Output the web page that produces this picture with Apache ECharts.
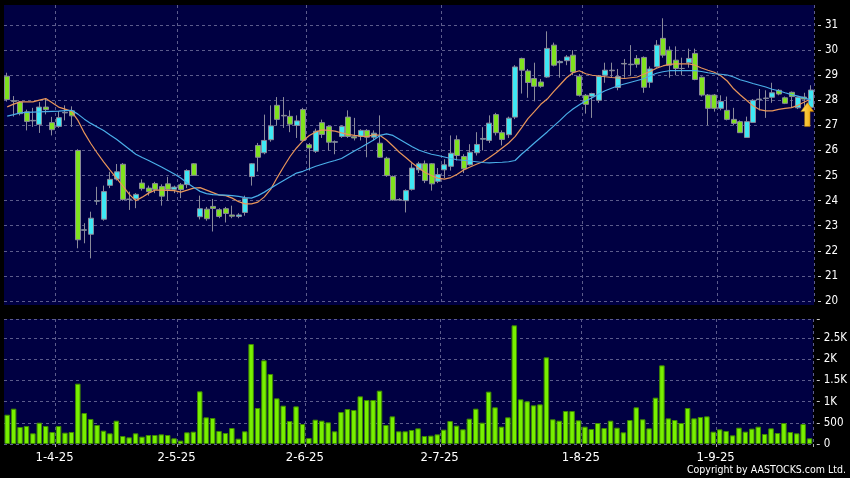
<!DOCTYPE html>
<html>
<head>
<meta charset="utf-8">
<script src="https://cdn.jsdelivr.net/npm/echarts@6/dist/echarts.min.js"></script>
<style>
html,body{margin:0;padding:0;background:#000;}
#chart{width:850px;height:478px;}
</style>
</head>
<body>
<div id="chart"></div>
<script>
const dates = [
'2025-03-20','2025-03-21','2025-03-24','2025-03-25','2025-03-26','2025-03-27','2025-03-28','2025-03-31',
'2025-04-01','2025-04-02','2025-04-03','2025-04-07','2025-04-08','2025-04-09','2025-04-10','2025-04-11','2025-04-14','2025-04-15','2025-04-16','2025-04-17','2025-04-22','2025-04-23','2025-04-24','2025-04-25','2025-04-28','2025-04-29','2025-04-30',
'2025-05-02','2025-05-06','2025-05-07','2025-05-08','2025-05-09','2025-05-12','2025-05-13','2025-05-14','2025-05-15','2025-05-16','2025-05-19','2025-05-20','2025-05-21','2025-05-22','2025-05-23','2025-05-26','2025-05-27','2025-05-28','2025-05-29','2025-05-30',
'2025-06-02','2025-06-03','2025-06-04','2025-06-05','2025-06-06','2025-06-09','2025-06-10','2025-06-11','2025-06-12','2025-06-13','2025-06-16','2025-06-17','2025-06-18','2025-06-19','2025-06-20','2025-06-23','2025-06-24','2025-06-25','2025-06-26','2025-06-27','2025-06-30',
'2025-07-02','2025-07-03','2025-07-04','2025-07-07','2025-07-08','2025-07-09','2025-07-10','2025-07-11','2025-07-14','2025-07-15','2025-07-16','2025-07-17','2025-07-18','2025-07-21','2025-07-22','2025-07-23','2025-07-24','2025-07-25','2025-07-28','2025-07-29','2025-07-30','2025-07-31',
'2025-08-01','2025-08-04','2025-08-05','2025-08-06','2025-08-07','2025-08-08','2025-08-11','2025-08-12','2025-08-13','2025-08-14','2025-08-15','2025-08-18','2025-08-19','2025-08-20','2025-08-21','2025-08-22','2025-08-25','2025-08-26','2025-08-27','2025-08-28','2025-08-29',
'2025-09-01','2025-09-02','2025-09-03','2025-09-04','2025-09-05','2025-09-08','2025-09-09','2025-09-10','2025-09-11','2025-09-12','2025-09-15','2025-09-16','2025-09-17','2025-09-18','2025-09-19'
];

const opens = [28.96,27.98,27.93,27.54,27.18,27.04,27.73,27.11,26.96,27.5, 27.58,26.0,22.82,22.66,23.98,23.26,24.61,24.86,25.45,24.05, 24.07,24.7,24.5,24.68,24.56,24.67,24.45,24.63,24.64,25.47, 23.36,23.66,23.77,23.64,23.68,23.43,23.37,23.53,24.96,26.2, 25.91,26.43,27.8,27.4,27.36,27.0,27.63,26.23,25.97,27.11, 26.96,26.33,26.56,27.33,26.55,26.56,26.8,26.53,26.29,25.69, 24.96,24.03,24.0,24.45,25.23,25.47,25.47,24.77,25.23,25.37, 26.43,25.76,25.43,25.91,26.45,26.4,27.43,26.71,26.63,27.33, 29.67,29.17,28.87,28.73,28.93,30.2,29.5,29.58,29.8,28.96, 28.2,28.16,28.0,29.0,29.18,28.51,29.45,29.42,29.67,29.71, 28.72,29.34,30.47,30.0,29.6,29.27,29.5,29.87,28.92,28.21, 28.21,27.68,27.6,27.24,27.15,26.52,27.12,28.03,28.07,28.12, 28.4,28.1,28.32,27.7,28.13,27.72];
const closes = [28.03,27.96,27.47,27.16,27.2,27.73,27.63,26.83,27.31,27.52, 27.38,22.44,22.84,23.3,24.0,24.36,24.85,25.15,24.05,24.06, 24.25,24.48,24.36,24.45,24.18,24.45,24.54,24.44,25.2,25.01, 23.68,23.28,23.69,23.37,23.49,23.38,23.43,24.09,25.47,25.73, 26.4,26.98,27.24,27.38,27.05,27.18,26.4,26.1,26.77,26.64, 26.33,26.35,26.96,26.56,26.5,26.8,26.53,26.69,25.73,25.0, 24.03,24.04,24.4,25.3,25.47,24.8,24.67,25.04,25.43,25.89, 25.8,25.27,25.93,26.24,26.48,27.09,26.71,26.44,27.29,29.33, 29.2,28.71,28.56,28.56,30.07,29.4,29.55,29.73,29.13,28.2, 27.84,28.27,28.96,29.2,29.2,28.95,29.47,29.44,29.44,28.52, 29.25,30.2,29.8,29.4,29.27,29.27,29.67,28.83,28.21,27.68, 27.68,27.95,27.24,27.08,26.71,27.15,28.0,28.05,28.09,28.3, 28.25,27.88,28.15,28.12,28.05,28.41];
const lows = [27.95,27.35,27.4,26.8,26.94,26.7,27.44,26.6,26.9,27.2, 26.94,22.1,22.3,21.7,23.83,23.2,24.5,24.8,24.0,23.63, 23.7,24.4,24.2,24.3,23.8,24.0,24.3,24.1,24.5,25.0, 23.25,23.2,22.77,23.3,23.13,23.3,23.3,23.4,24.6,25.16, 25.85,26.35,27.0,26.9,26.73,26.5,26.35,25.2,25.9,26.5, 26.0,25.85,26.5,26.5,26.4,26.4,25.73,26.4,25.7,24.95, 24.0,24.0,23.53,24.4,25.1,24.7,24.4,24.7,24.9,25.2, 25.6,25.1,25.4,25.8,26.0,26.3,26.6,26.2,26.5,27.25, 28.27,28.1,27.96,28.5,28.9,29.35,28.9,29.4,29.0,28.15, 27.47,27.3,27.9,28.7,28.9,28.4,28.9,29.0,29.3,28.3, 28.5,29.3,29.7,28.9,29.0,29.0,29.3,28.8,28.15,27.0, 27.55,27.6,27.2,27.0,26.7,26.52,27.1,27.6,27.3,27.9, 28.2,27.85,27.7,27.65,27.7,27.7];
const highs = [29.1,28.17,27.97,27.63,27.7,27.93,28.09,27.34,27.57,27.8, 27.76,26.05,23.1,23.56,24.55,24.6,25.15,25.46,25.5,24.36, 24.3,24.85,24.6,24.75,24.65,24.95,24.6,24.7,25.25,25.5, 24.2,23.75,24.07,23.7,23.75,23.8,23.5,24.2,25.5,26.3, 27.43,27.8,28.13,28.13,27.6,27.4,27.7,26.3,26.87,27.23, 27.0,26.4,27.0,27.6,27.3,26.85,26.85,26.8,27.4,25.75, 25.0,24.1,24.45,25.49,25.55,25.6,25.5,25.3,25.65,26.6, 26.6,25.85,26.25,26.73,26.93,27.4,27.5,26.8,27.35,29.4, 29.7,29.25,29.5,28.85,30.75,30.3,29.6,29.8,30.0,29.05, 28.25,28.3,29.0,29.5,29.5,29.25,29.65,30.2,29.8,29.75, 29.35,30.4,31.27,30.15,30.15,29.7,30.06,30.06,28.95,28.25, 28.25,28.2,28.15,27.7,27.2,27.35,28.05,28.45,28.4,28.7, 28.45,28.15,28.35,28.15,28.3,28.6];

const ma10 = [27.74,27.85,27.94,27.94,27.94,28.01,28.07,27.9,27.73,27.65, 27.56,27.2,26.7,26.28,25.9,25.55,25.22,24.9,24.58,24.25, 24.0,24.14,24.3,24.42,24.42,24.41,24.4,24.34,24.42,24.5, 24.52,24.42,24.32,24.22,24.2,24.1,23.96,23.87,23.87,23.94, 24.15,24.46,24.92,25.35,25.76,26.1,26.38,26.6,26.74,26.82, 26.8,26.77,26.7,26.64,26.6,26.57,26.55,26.63,26.6,26.42, 26.18,25.93,25.72,25.5,25.3,25.12,25.0,24.9,24.86,24.92, 25.05,25.22,25.34,25.45,25.55,25.72,25.9,26.1,26.3,26.55, 26.9,27.27,27.55,27.84,28.05,28.35,28.62,28.9,29.1,29.18, 29.06,29.0,28.97,28.94,28.91,28.89,28.87,28.9,28.93,29.04, 29.15,29.28,29.37,29.43,29.45,29.45,29.45,29.4,29.29,29.2, 29.12,28.98,28.77,28.46,28.22,28.0,27.78,27.63,27.58,27.58, 27.64,27.68,27.71,27.8,27.93,28.05];
const ma20 = [27.37,27.43,27.5,27.52,27.53,27.54,27.55,27.56,27.57,27.59, 27.6,27.45,27.25,27.08,26.94,26.8,26.62,26.45,26.25,26.05, 25.85,25.72,25.6,25.47,25.34,25.2,25.06,24.9,24.7,24.53, 24.37,24.28,24.24,24.23,24.22,24.2,24.17,24.12,24.1,24.2, 24.34,24.5,24.65,24.8,24.95,25.1,25.17,25.27,25.37,25.45, 25.53,25.6,25.68,25.83,25.98,26.12,26.27,26.42,26.6,26.66, 26.6,26.45,26.3,26.15,26.02,25.93,25.85,25.8,25.74,25.68, 25.63,25.61,25.58,25.55,25.52,25.51,25.52,25.53,25.55,25.6, 25.85,26.07,26.3,26.52,26.74,26.97,27.2,27.45,27.65,27.82, 27.98,28.1,28.25,28.38,28.48,28.58,28.65,28.72,28.79,28.86, 28.98,29.08,29.14,29.18,29.18,29.18,29.18,29.18,29.15,29.1, 29.06,29.04,29.01,28.93,28.82,28.75,28.67,28.6,28.53,28.44, 28.38,28.3,28.23,28.17,28.1,28.01];

const volumes = [691,833,401,425,252,503,425,283,425,267, 283,1423,731,590,448,314,252,550,189,157, 252,173,212,212,228,212,134,79,275,291, 1242,629,613,307,259,377,126,299,2358,849, 1973,1651,1077,904,542,888,472,142,574,550, 511,299,755,825,802,1124,1038,1038,1258,448, 652,299,299,330,369,189,197,228,338,542, 433,346,598,833,503,1235,865,409,629,2799, 1053,1006,912,935,2044,582,550,778,778,558, 409,354,495,377,550,385,275,566,865,582, 369,1093,1855,605,566,495,849,605,637,652, 291,346,307,204,385,291,362,409,236,369, 259,495,283,252,472,134];

const priceTicks = [20,21,22,23,24,25,26,27,28,29,30,31];
const volumeTicks = [0,500,1000,1500,2000,2500];
const volumeTickLabels = ['0','500','1K','1.5K','2K','2.5K'];
const monthStartDates = ['2025-04-01','2025-05-02','2025-06-02','2025-07-02','2025-08-01','2025-09-01'];
const monthStartLabels = ['1-4-25','2-5-25','2-6-25','2-7-25','1-8-25','1-9-25'];
const signalDate = '2025-09-18';
const signalPrice = 27.43;

const isMonthStart = (idx) => monthStartDates.indexOf(dates[idx]) >= 0;
const ohlc = dates.map((d, i) => [opens[i], closes[i], lows[i], highs[i]]);

const FONT = 'DejaVu Sans Condensed';
const gridLine = { show: true, interval: (idx) => isMonthStart(idx), lineStyle: { color: '#5c5c8c', type: [3, 3], width: 1 } };
const hGridLine = { show: true, lineStyle: { color: '#5c5c8c', type: [3, 3], width: 1 } };

const chart = echarts.init(document.getElementById('chart'), null, { renderer: 'canvas' });
chart.setOption({
  animation: false,
  backgroundColor: '#000000',
  grid: [
    { left: 4, top: 5, width: 810, height: 300, show: true, backgroundColor: '#000042', borderWidth: 0 },
    { left: 4, top: 319, width: 810, height: 125, show: true, backgroundColor: '#000042', borderWidth: 0 }
  ],
  xAxis: [
    { type: 'category', gridIndex: 0, data: dates, boundaryGap: true,
      axisLine: { show: false }, axisTick: { show: false, interval: (idx) => isMonthStart(idx) }, axisLabel: { show: false },
      splitLine: gridLine },
    { type: 'category', gridIndex: 1, data: dates, boundaryGap: true, offset: 2,
      axisLine: { show: false },
      axisTick: { show: true, interval: (idx) => isMonthStart(idx), length: 3, lineStyle: { color: '#aaaaaa' } },
      axisLabel: { show: true, interval: (idx) => isMonthStart(idx), color: '#ffffff', fontFamily: FONT, fontSize: 13, margin: 5,
        padding: [0, 8, 0, 0],
        formatter: (v) => { const k = monthStartDates.indexOf(v); return k >= 0 ? monthStartLabels[k] : ''; } },
      splitLine: gridLine }
  ],
  yAxis: [
    { type: 'value', gridIndex: 0, position: 'right', min: 19.84, max: 31.8, offset: 4,
      axisLine: { show: false },
      axisTick: { show: true, length: 3, customValues: priceTicks, lineStyle: { color: '#cccccc' } },
      axisLabel: { show: true, customValues: priceTicks, color: '#ffffff', fontFamily: FONT, fontSize: 11.5, margin: 7 },
      splitLine: hGridLine },
    { type: 'value', gridIndex: 1, position: 'right', min: 0, max: 2948, interval: 500, offset: 4,
      axisLine: { show: false },
      axisTick: { show: true, length: 3, lineStyle: { color: '#cccccc' } },
      axisLabel: { show: true, color: '#ffffff', fontFamily: FONT, fontSize: 11.5, margin: 7,
        formatter: (v) => { const k = volumeTicks.indexOf(v); return k >= 0 ? volumeTickLabels[k] : ''; } },
      splitLine: hGridLine }
  ],
  series: [
    { type: 'candlestick', xAxisIndex: 0, yAxisIndex: 0, data: ohlc, barWidth: 5.5,
      itemStyle: { color: '#3ee8f4', color0: '#7fe21e', borderColor: '#8a8a9a', borderColor0: '#8a8a9a', borderWidth: 1 },
      markPoint: {
        silent: true,
        data: [{ coord: [signalDate, signalPrice], symbol: 'path://M6,0 L12,9 L8.5,9 L8.5,24 L3.5,24 L3.5,9 L0,9 Z',
          symbolSize: [13, 24], symbolOffset: [3, 0], label: { show: false },
          itemStyle: { color: new echarts.graphic.LinearGradient(0, 0, 1, 0, [{ offset: 0, color: '#ffe060' }, { offset: 1, color: '#f0a000' }]), borderColor: '#b07000', borderWidth: 0.5 } }]
      } },
    { type: 'line', xAxisIndex: 0, yAxisIndex: 0, data: ma10, symbol: 'none', smooth: false,
      lineStyle: { color: '#e8955a', width: 1.2 } },
    { type: 'line', xAxisIndex: 0, yAxisIndex: 0, data: ma20, symbol: 'none', smooth: false,
      lineStyle: { color: '#4aaee8', width: 1.2 } },
    { type: 'bar', xAxisIndex: 1, yAxisIndex: 1, data: volumes, barWidth: 5.5,
      itemStyle: { color: '#78f000', borderColor: '#3f8a00', borderWidth: 1 } }
  ],
  graphic: [
    { type: 'text', right: 4, top: 465, silent: true,
      style: { text: 'Copyright by AASTOCKS.com Ltd.', fill: '#ffffff', font: '10.5px "DejaVu Sans Condensed"' } }
  ]
});
</script>
</body>
</html>
